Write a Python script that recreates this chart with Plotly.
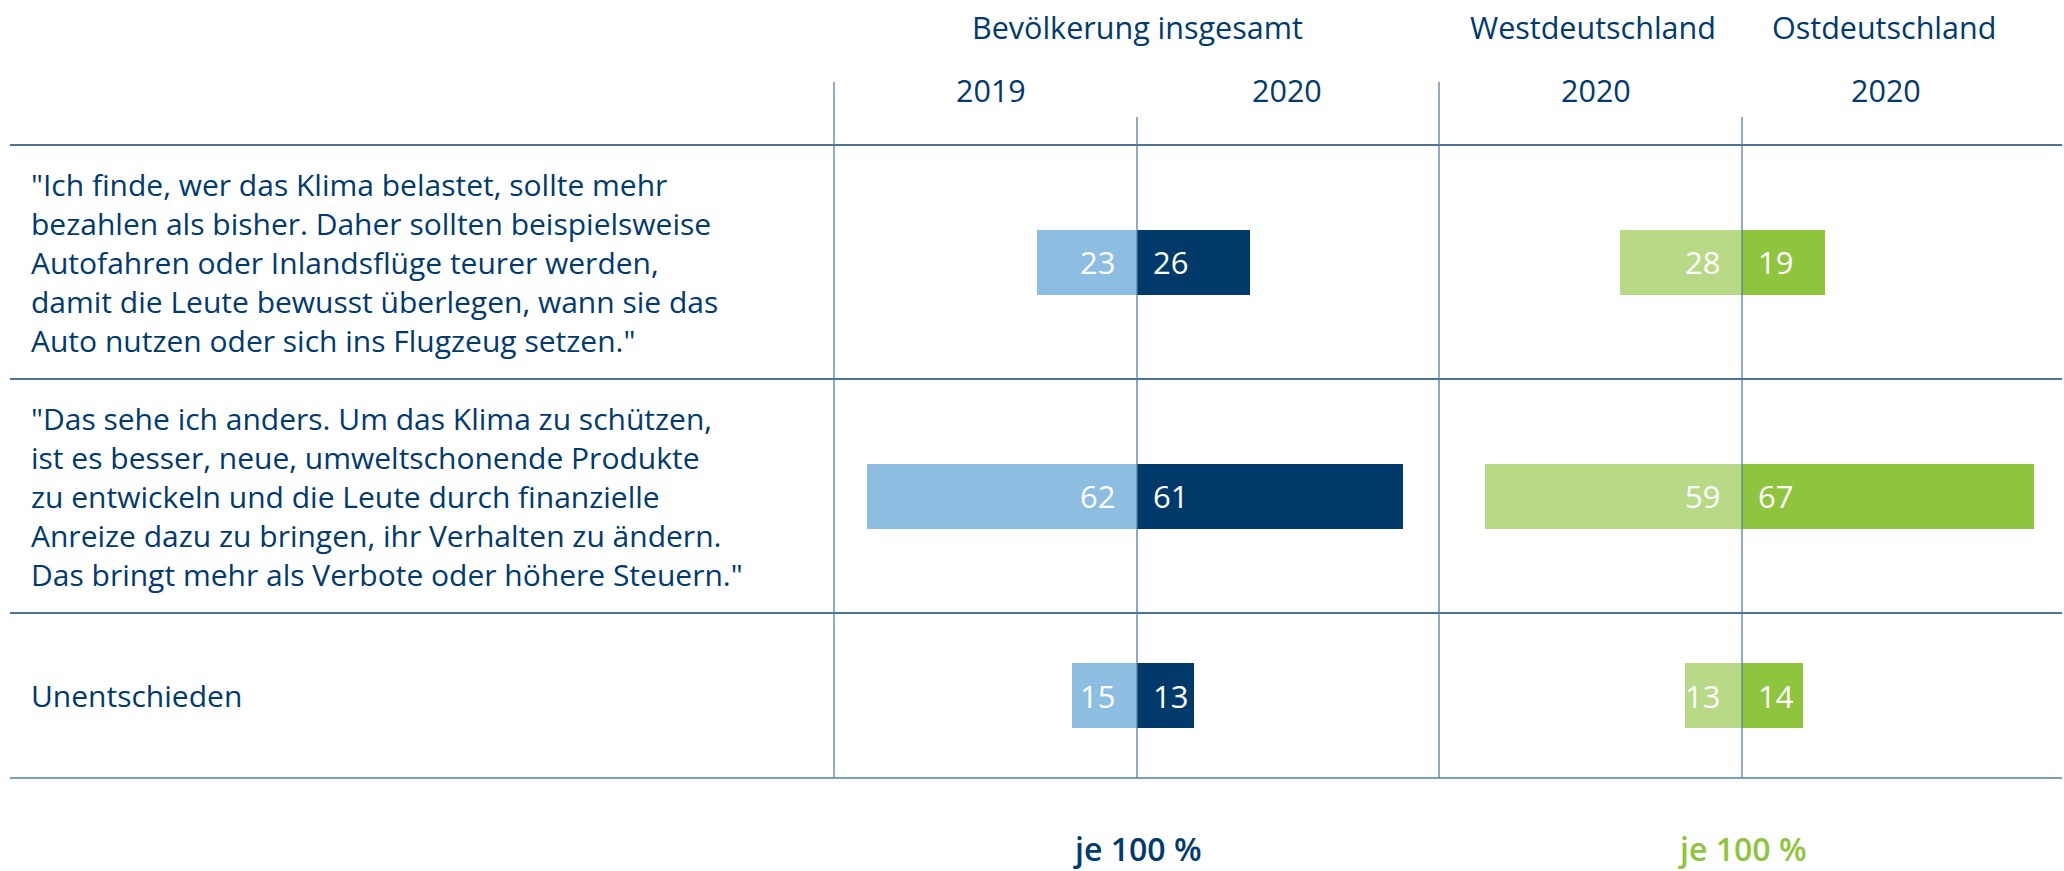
import plotly.graph_objects as go

# ---------------- data ----------------
row_labels = [
    '"Ich finde, wer das Klima belastet, sollte mehr<br>bezahlen als bisher. Daher sollten beispielsweise<br>Autofahren oder Inlandsflüge teurer werden,<br>damit die Leute bewusst überlegen, wann sie das<br>Auto nutzen oder sich ins Flugzeug setzen."',
    '"Das sehe ich anders. Um das Klima zu schützen,<br>ist es besser, neue, umweltschonende Produkte<br>zu entwickeln und die Leute durch finanzielle<br>Anreize dazu zu bringen, ihr Verhalten zu ändern.<br>Das bringt mehr als Verbote oder höhere Steuern."',
    'Unentschieden',
]
total_2019 = [23, 62, 15]
total_2020 = [26, 61, 13]
west_2020 = [28, 59, 13]
east_2020 = [19, 67, 14]
group_titles = ["Bevölkerung insgesamt", "Westdeutschland", "Ostdeutschland"]
year_labels = ["2019", "2020", "2020", "2020"]
footer_text = "je 100 %"

# ---------------- style / layout ----------------
W, H = 2064, 871
FONT = "Open Sans"
TXT = "#003a6e"
C_LBLUE = "#8dbde0"
C_DBLUE = "#003a6a"
C_LGREEN = "#b8d986"
C_GREEN = "#8fc43f"
C_LINE = "#4f7399"
C_LINE_B = "#7f9cbc"
C_VLINE = "#5b7ba2"
PX = 4.36               # pixels per percentage point
X_SEP1, X_SEP2 = 834, 1439
X_C1, X_C2 = 1137, 1742
ROW_EDGES = [145, 379, 613, 778]
BAR_H = 65


def px_x(p):
    return p / W


def px_y(p):
    return 1 - p / H


fig = go.Figure()

# axes
layout_axes = {}
layout_axes["xaxis"] = dict(domain=[px_x(X_SEP1), px_x(X_SEP2)],
                            range=[-(X_C1 - X_SEP1) / PX, (X_SEP2 - X_C1) / PX],
                            visible=False, fixedrange=True)
layout_axes["xaxis2"] = dict(domain=[px_x(X_SEP2), 1.0],
                             range=[-(X_C2 - X_SEP2) / PX, (W - X_C2) / PX],
                             visible=False, fixedrange=True)
yrefs = []
for i in range(3):
    t, b = ROW_EDGES[i], ROW_EDGES[i + 1]
    h = b - t
    name = "yaxis" if i == 0 else f"yaxis{i + 1}"
    layout_axes[name] = dict(domain=[px_y(b), px_y(t)], range=[-h / 2, h / 2],
                             visible=False, fixedrange=True)
    yrefs.append("y" if i == 0 else f"y{i + 1}")

annotations = []
value_font = dict(family=FONT, size=31, color="white", weight=500)

for i in range(3):
    yr = yrefs[i]
    pairs = [
        ("x", total_2019[i], total_2020[i], C_LBLUE, C_DBLUE),
        ("x2", west_2020[i], east_2020[i], C_LGREEN, C_GREEN),
    ]
    for xr, lv, rv, lc, rc in pairs:
        fig.add_trace(go.Bar(x=[-lv], y=[0], orientation="h", width=BAR_H,
                             marker=dict(color=lc, line=dict(width=0)),
                             xaxis=xr, yaxis=yr, showlegend=False, hoverinfo="skip"))
        fig.add_trace(go.Bar(x=[rv], y=[0], orientation="h", width=BAR_H,
                             marker=dict(color=rc, line=dict(width=0)),
                             xaxis=xr, yaxis=yr, showlegend=False, hoverinfo="skip"))
        annotations.append(dict(x=0, y=0, xref=xr, yref=yr, text=str(lv),
                                xanchor="right", yanchor="middle", xshift=-20,
                                showarrow=False, font=value_font))
        annotations.append(dict(x=0, y=0, xref=xr, yref=yr, text=str(rv),
                                xanchor="left", yanchor="middle", xshift=14,
                                showarrow=False, font=value_font))
    # row label
    annotations.append(dict(x=px_x(29), y=0, xref="paper", yref=yr,
                            text=row_labels[i], xanchor="left", yanchor="middle",
                            align="left", showarrow=False,
                            font=dict(family=FONT, size=30, color=TXT)))

# headers
head_font = dict(family=FONT, size=30.5, color=TXT)
for txt, xp in zip(group_titles, [X_C1, 1593, 1884]):
    annotations.append(dict(x=px_x(xp), y=px_y(27), xref="paper", yref="paper",
                            text=txt, showarrow=False, xanchor="center",
                            yanchor="middle", font=head_font))
for txt, xr, xv in zip(year_labels, ["x", "x", "x2", "x2"], [-33.5, 34.5, -33.5, 33]):
    annotations.append(dict(x=xv, y=px_y(90), xref=xr, yref="paper", text=txt,
                            showarrow=False, xanchor="center", yanchor="middle",
                            font=head_font))

# footers
for xr, col in [("x", TXT), ("x2", C_GREEN)]:
    annotations.append(dict(x=0, y=px_y(848), xref=xr, yref="paper", text=footer_text,
                            showarrow=False, xanchor="center", yanchor="middle",
                            font=dict(family=FONT, size=32, color=col, weight=600)))

# grid lines
shapes = []
for k, yp in enumerate(ROW_EDGES):
    shapes.append(dict(type="line", xref="paper", yref="paper",
                       x0=px_x(10), x1=px_x(2062), y0=px_y(yp), y1=px_y(yp),
                       line=dict(color=C_LINE_B if k == len(ROW_EDGES) - 1 else C_LINE, width=2),
                       layer="above"))
for xp in [X_SEP1, X_SEP2]:
    shapes.append(dict(type="line", xref="paper", yref="paper",
                       x0=px_x(xp), x1=px_x(xp), y0=px_y(82), y1=px_y(ROW_EDGES[-1]),
                       line=dict(color=C_VLINE, width=1.3), layer="above"))
for xr in ["x", "x2"]:
    shapes.append(dict(type="line", xref=xr, yref="paper",
                       x0=0, x1=0, y0=px_y(117), y1=px_y(ROW_EDGES[-1]),
                       line=dict(color=C_VLINE, width=1.3), layer="above"))

fig.update_layout(
    width=W, height=H,
    margin=dict(l=0, r=0, t=0, b=0),
    paper_bgcolor="white", plot_bgcolor="white",
    barmode="overlay", bargap=0,
    annotations=annotations, shapes=shapes,
    showlegend=False,
    font=dict(family=FONT, color=TXT),
    **layout_axes,
)

fig.write_html("out.html", config={"displayModeBar": False},
               post_script="document.body.style.margin='0px';document.body.style.overflow='hidden';")
